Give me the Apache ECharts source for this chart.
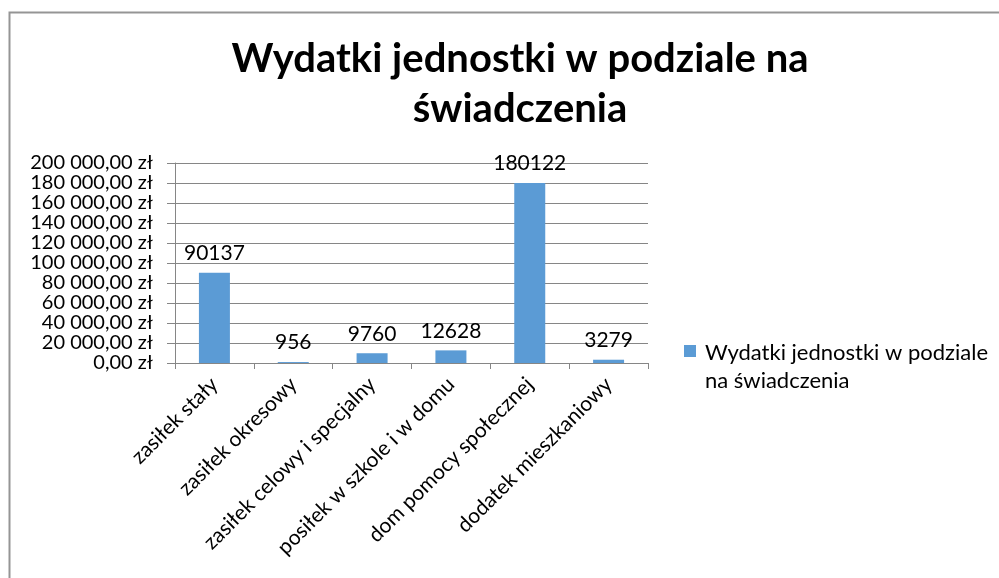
<!DOCTYPE html>
<html>
<head>
<meta charset="utf-8">
<script src="https://cdn.jsdelivr.net/npm/echarts@6/dist/echarts.min.js"></script>
<style>
  html, body { margin: 0; padding: 0; background: #fff; }
  #chart { width: 999px; height: 578px; }
</style>
</head>
<body>
<div id="chart"></div>
<script>
const categories = ['zasiłek stały', 'zasiłek okresowy', 'zasiłek celowy i specjalny', 'posiłek w szkole i w domu', 'dom pomocy społecznej', 'dodatek mieszkaniowy'];
const values = [90137, 956, 9760, 12628, 180122, 3279];
const seriesName = 'Wydatki jednostki w podziale na świadczenia';
const yMin = 0;
const yMax = 200000;
const yStep = 20000;

const chart = echarts.init(document.getElementById('chart'));
const font = 'Lato, "Open Sans", sans-serif';

function formatZl(v) {
    const s = String(Math.round(v)).replace(/\B(?=(\d{3})+(?!\d))/g, ' ');
    return s + ',00 zł';
}

const option = {
    animation: false,
    textStyle: { fontFamily: font },
    graphic: [
        {
            type: 'rect',
            shape: { x: 9.5, y: 12.5, width: 1100, height: 700 },
            style: { fill: 'none', stroke: '#959595', lineWidth: 2 },
            silent: true
        }
    ],
    title: {
        text: 'Wydatki jednostki w podziale na\nświadczenia',
        left: 515,
        textAlign: 'center',
        top: 29,
        textStyle: {
            fontFamily: font,
            fontSize: 40,
            fontWeight: 'bold',
            color: '#000',
            lineHeight: 50
        }
    },
    legend: {
        left: 679,
        top: 334,
        orient: 'vertical',
        itemWidth: 12,
        itemHeight: 44,
        itemGap: 0,
        // square at the top of a taller icon box, so it sits beside the first text line
        icon: 'path://M0,0H10V10H0Z M0,36.7L0.01,36.7',
        formatter: function () {
            return 'Wydatki jednostki w podziale\nna świadczenia';
        },
        textStyle: {
            fontFamily: font,
            fontSize: 22,
            lineHeight: 28,
            padding: [0, 0, 0, 4],
            color: '#000'
        }
    },
    grid: {
        left: 175,
        right: 351,
        top: 163,
        bottom: 215
    },
    xAxis: {
        type: 'category',
        data: categories,
        axisLine: { lineStyle: { color: '#868686', width: 1 } },
        axisTick: { show: true, length: 6, lineStyle: { color: '#868686' } },
        axisLabel: {
            interval: 0,
            rotate: 45,
            margin: 18,
            fontFamily: font,
            fontSize: 21,
            color: '#000'
        }
    },
    yAxis: {
        type: 'value',
        min: yMin,
        max: yMax,
        interval: yStep,
        axisLine: { show: true, lineStyle: { color: '#868686', width: 1 } },
        axisTick: { show: true, inside: false, length: 8, lineStyle: { color: '#868686' } },
        splitLine: { lineStyle: { color: '#868686', width: 1 } },
        axisLabel: {
            margin: 22,
            fontFamily: font,
            fontSize: 20,
            color: '#000',
            formatter: formatZl
        }
    },
    series: [
        {
            name: seriesName,
            type: 'bar',
            data: values,
            barWidth: 31,
            itemStyle: { color: '#5B9BD5' },
            label: {
                show: true,
                position: 'top',
                distance: 9,
                fontFamily: font,
                fontSize: 21,
                color: '#000'
            }
        }
    ]
};

chart.setOption(option);
</script>
</body>
</html>
